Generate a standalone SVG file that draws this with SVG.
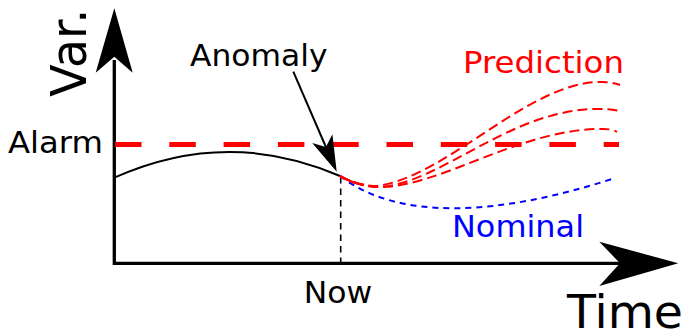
<svg xmlns="http://www.w3.org/2000/svg" width="684" height="332" viewBox="0 0 684 332">
<style>
.lbl{font-family:"DejaVu Sans","Liberation Sans",sans-serif;font-size:30px;fill:#000}
.red{fill:#ff0000}
.blue{fill:#0000ff}
.pred{fill:none;stroke:#ff0000;stroke-width:2;stroke-dasharray:10 5}
</style>
<rect width="684" height="332" fill="#fff"/>
<g id="connectors">
  <g id="axes" stroke="#000" stroke-width="3.3" fill="none">
    <path d="M114.3,60 V263.3 H625"/>
  </g>
  <polygon points="114.3,8.3 132.7,72.7 114.3,56.7 95.7,72.7" fill="#000"/>
  <polygon points="678.3,263.3 599.3,286 620,263.3 599.3,241.7" fill="#000"/>
  <line id="alarm-line" x1="115" y1="144.5" x2="619" y2="144.5" stroke="#ff0000" stroke-width="5" stroke-dasharray="26.5 27.8"/>
  <path id="history" d="M114.3,177.7 Q227,127 340,176" fill="none" stroke="#000" stroke-width="2"/>
  <line id="now-line" x1="340.7" y1="177" x2="340.7" y2="263" stroke="#000" stroke-width="1.6" stroke-dasharray="6.5 5"/>
  <path id="nominal-curve" d="M340,176 C400,222 500,215 612,179" fill="none" stroke="#0000ff" stroke-width="2" stroke-dasharray="6 5"/>
  <path class="pred" d="M340,176 Q358,186 378,186 C450,175 530,80 603,82 C612,82.5 616,83.5 620,85"/>
  <path class="pred" d="M340,176 Q358,186 378,187 C440,185 510,108 600,109 C610,109 615,110 619,111"/>
  <path class="pred" d="M340,176 Q358,186 378,187 C440,188 520,128 603,129 C610,129 614,130 617,132"/>
  <path d="M340,176 Q352,183 364,185" fill="none" stroke="#ff0000" stroke-width="2.5"/>
  <g id="anomaly-arrow">
    <line x1="293.3" y1="71.7" x2="325.9" y2="147" stroke="#000" stroke-width="2"/>
    <polygon points="336.7,171.7 312.2,143.1 325.9,147 332.4,134.3" fill="#000"/>
  </g>
</g>
<g id="label-var"><text class="lbl" font-size="50" style="font-size:50px" transform="translate(85.7,96.7) rotate(-90)" textLength="88" lengthAdjust="spacingAndGlyphs">Var.</text></g>
<g id="label-time"><text class="lbl" x="567" y="328" style="font-size:46px" textLength="116" lengthAdjust="spacingAndGlyphs">Time</text></g>
<g id="label-alarm"><text class="lbl" x="8" y="153.3" textLength="95" lengthAdjust="spacingAndGlyphs">Alarm</text></g>
<g id="label-anomaly"><text class="lbl" x="190" y="65.7" textLength="137.5" lengthAdjust="spacingAndGlyphs">Anomaly</text></g>
<g id="label-prediction"><text class="lbl red" x="463" y="72.7" textLength="161" lengthAdjust="spacingAndGlyphs">Prediction</text></g>
<g id="label-nominal"><text class="lbl blue" x="452" y="237.3" textLength="132" lengthAdjust="spacingAndGlyphs">Nominal</text></g>
<g id="label-now"><text class="lbl" x="303.7" y="303.3" textLength="68.5" lengthAdjust="spacingAndGlyphs">Now</text></g>
</svg>
